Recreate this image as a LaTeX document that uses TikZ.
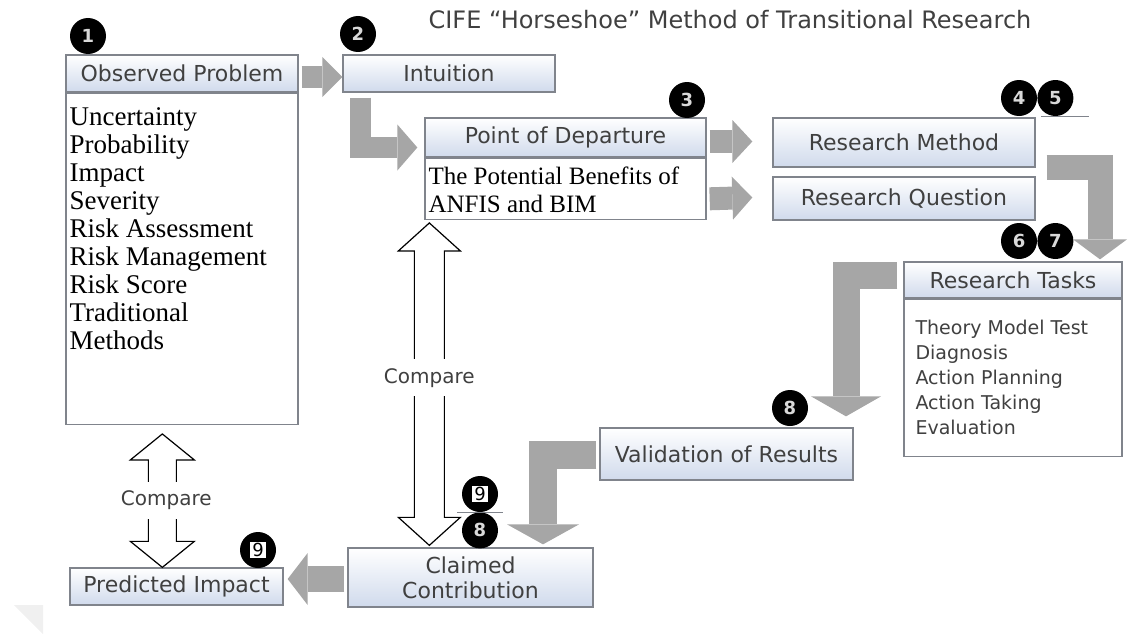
\documentclass[tikz,border=0pt]{standalone}
\usepackage{fontspec}
\setmainfont{Liberation Serif}
\setsansfont{DejaVu Sans}
\usepackage{tikz}
\usetikzlibrary{positioning, arrows.meta, calc}

\definecolor{boxline}{RGB}{128,132,140}
\definecolor{boxblue}{RGB}{208,218,236}
\definecolor{flowgray}{RGB}{166,166,166}
\definecolor{labelgray}{RGB}{64,64,64}

\begin{document}
\begin{tikzpicture}[
        x=1pt, y=-1pt,
        every node/.style={inner sep=0pt},
        header/.style={rectangle, draw=boxline, line width=1.3pt, top color=white, bottom color=boxblue, text=labelgray, align=center, font=\sffamily\fontsize{22}{25}\selectfont},
        listbox/.style={rectangle, draw=boxline, line width=1.3pt, fill=white},
        seriflist/.style={anchor=north west, align=left, font=\rmfamily\fontsize{27}{28}\selectfont},
        sanslist/.style={anchor=north west, align=left, text=labelgray, font=\sffamily\fontsize{19}{25}\selectfont},
        badge/.style={circle, fill=black, minimum size=36pt, text=white!85!black, font=\sffamily\bfseries\fontsize{18}{18}\selectfont},
        ninebox/.style={rectangle, fill=white, inner xsep=2pt, inner ysep=1.5pt, text=black, font=\sffamily\fontsize{18}{18}\selectfont},
        flow/.style={draw=flowgray, line width=24pt, -{Triangle[length=20pt 0 0, width=#1 0 0, line width=0pt 0 0]}},
        flow/.default=46pt,
        hollow/.style={draw=black, line width=1.2pt, fill=white},
        cmplabel/.style={fill=white, inner xsep=2pt, inner ysep=9pt, text=labelgray, font=\sffamily\fontsize{20}{20}\selectfont},
        thinrule/.style={draw=boxline, line width=0.6pt}
    ]
        \useasboundingbox (0,0) rectangle (1129,634);
        % Title
        \node[text=labelgray, font=\sffamily\fontsize{24}{24}\selectfont] (title) at (730,20) {CIFE “Horseshoe” Method of Transitional Research};
        % Left column
        \node[header, minimum width=232pt, minimum height=37pt] (op) at (182,73.5) {Observed Problem};
        \node[listbox, minimum width=232pt, minimum height=331pt, below=0pt of op] (opbody) {};
        \node[seriflist] (oplist) at ([xshift=4pt, yshift=-15pt]opbody.north west) {Uncertainty\\Probability\\Impact\\Severity\\Risk Assessment\\Risk Management\\Risk Score\\Traditional\\Methods};
        \node[header, minimum width=213pt, minimum height=37pt] (pimp) at (176.5,586.5) {Predicted Impact};
        % Middle column
        \node[header, minimum width=212pt, minimum height=37pt] (intu) at (449,73.5) {Intuition};
        \node[header, minimum width=281pt, minimum height=39pt] (pod) at (565.5,137.5) {Point of Departure};
        \node[listbox, minimum width=281pt, minimum height=61pt, below=0pt of pod] (podbody) {};
        \node[seriflist, font=\rmfamily\fontsize{25}{28}\selectfont] (podlist) at ([xshift=4pt, yshift=-9pt]podbody.north west) {The Potential Benefits of\\ANFIS and BIM};
        \node[header, minimum width=245pt, minimum height=59pt] (claim) at (470.5,577.5) {Claimed\\Contribution};
        \node[header, minimum width=253pt, minimum height=52pt] (valid) at (726.5,454) {Validation of Results};
        % Right column
        \node[header, minimum width=262pt, minimum height=49pt] (rmeth) at (904,142.5) {Research Method};
        \node[header, minimum width=262pt, minimum height=43pt] (rques) at (904,198.5) {Research Question};
        \node[header, minimum width=218pt, minimum height=36pt] (rtask) at (1013,280) {Research Tasks};
        \node[listbox, minimum width=218pt, minimum height=157pt, below=0pt of rtask] (rtaskbody) {};
        \node[sanslist] (rtasklist) at ([xshift=12pt, yshift=-21pt]rtaskbody.north west) {Theory Model Test\\Diagnosis\\Action Planning\\Action Taking\\Evaluation};
        % Step badges
        \node[badge] (b1) at (88,36) {1};
        \node[badge] (b2) at (358,34) {2};
        \node[badge] (b3) at (687,100) {3};
        \node[badge] (b4) at (1019,98) {4};
        \node[badge, right=0pt of b4] (b5) {5};
        \node[badge] (b6) at (1019,241) {6};
        \node[badge, right=0pt of b6] (b7) {7};
        \node[badge] (b8) at (790,408) {8};
        \node[badge] (b9mid) at (480,494) {};
        \node[ninebox] (n9mid) at (b9mid) {9};
        \node[badge, below=0pt of b9mid] (b8mid) {8};
        \node[badge] (b9pi) at (258,550) {};
        \node[ninebox] (n9pi) at (b9pi) {9};
        \draw[thinrule] ([xshift=-14pt]b5.south) -- ++(48,0);
        \draw[thinrule] ([xshift=-23pt]b9mid.south) -- ++(46,0);
        % Gray flow arrows
        \draw[flow=40pt, line width=21pt] ([xshift=3pt, yshift=-3.5pt]op.east) -- ([yshift=-3.5pt]intu.west);
        \draw[flow, line width=21pt] ([xshift=18pt, yshift=-5pt]intu.south west) |- ([xshift=-7pt, yshift=-10pt]pod.west);
        \draw[flow=43pt, line width=23pt] ([xshift=3pt, yshift=-4pt]pod.east) -- ([xshift=-20pt, yshift=1pt]rmeth.west);
        \draw[flow=43pt, line width=23pt] ([xshift=3pt, yshift=-10pt]podbody.east) -- ([xshift=-20pt, yshift=1pt]rques.west);
        \draw[flow=54pt, line width=25pt] ([xshift=11pt, yshift=-24.5pt]rmeth.east) -| ([xshift=87pt, yshift=2pt]rtask.north);
        \draw[flow=70pt, line width=27pt] ([xshift=-6pt, yshift=5pt]rtask.west) -| ([xshift=119.5pt, yshift=11pt]valid.north);
        \draw[flow=72pt, line width=28pt] ([xshift=-3pt, yshift=-1pt]valid.west) -| ([xshift=72.5pt, yshift=3pt]claim.north);
        \draw[flow=52pt, line width=26pt] ([xshift=-3pt, yshift=-1.5pt]claim.west) -- ([xshift=4pt, yshift=7.5pt]pimp.east);
        % Hollow compare arrows
        \coordinate (cmptop) at ([xshift=5pt, yshift=-3pt]podbody.south west);
        \coordinate (cmpbot) at ([xshift=82pt, yshift=2pt]claim.north west);
        \draw[hollow] (cmptop) -- ++(31,28) -- ++(-16,0) -- ($(cmpbot)+(15,-28)$) -- ++(16,0) -- (cmpbot) -- ++(-31,-28) -- ++(16,0) -- ($(cmptop)+(-15,28)$) -- ++(-16,0) -- cycle;
        \node[cmplabel] (cmpmid) at ($(cmptop)!0.48!(cmpbot)$) {Compare};
        \coordinate (cmpltop) at ([xshift=97pt, yshift=-9pt]opbody.south west);
        \coordinate (cmplbot) at (cmpltop |- pimp.north);
        \draw[hollow] (cmpltop) -- ++(32,26) -- ++(-18,0) -- ($(cmplbot)+(14,-26)$) -- ++(18,0) -- (cmplbot) -- ++(-32,-26) -- ++(18,0) -- ($(cmpltop)+(-14,26)$) -- ++(-18,0) -- cycle;
        \node[cmplabel] (cmpleft) at ($(cmpltop)!0.5!(cmplbot)+(4,0)$) {Compare};
        % Faint corner mark
        \fill[black!6] (14,605) -- (43,605) -- (43,634) -- cycle;
    \end{tikzpicture}
\end{document}
